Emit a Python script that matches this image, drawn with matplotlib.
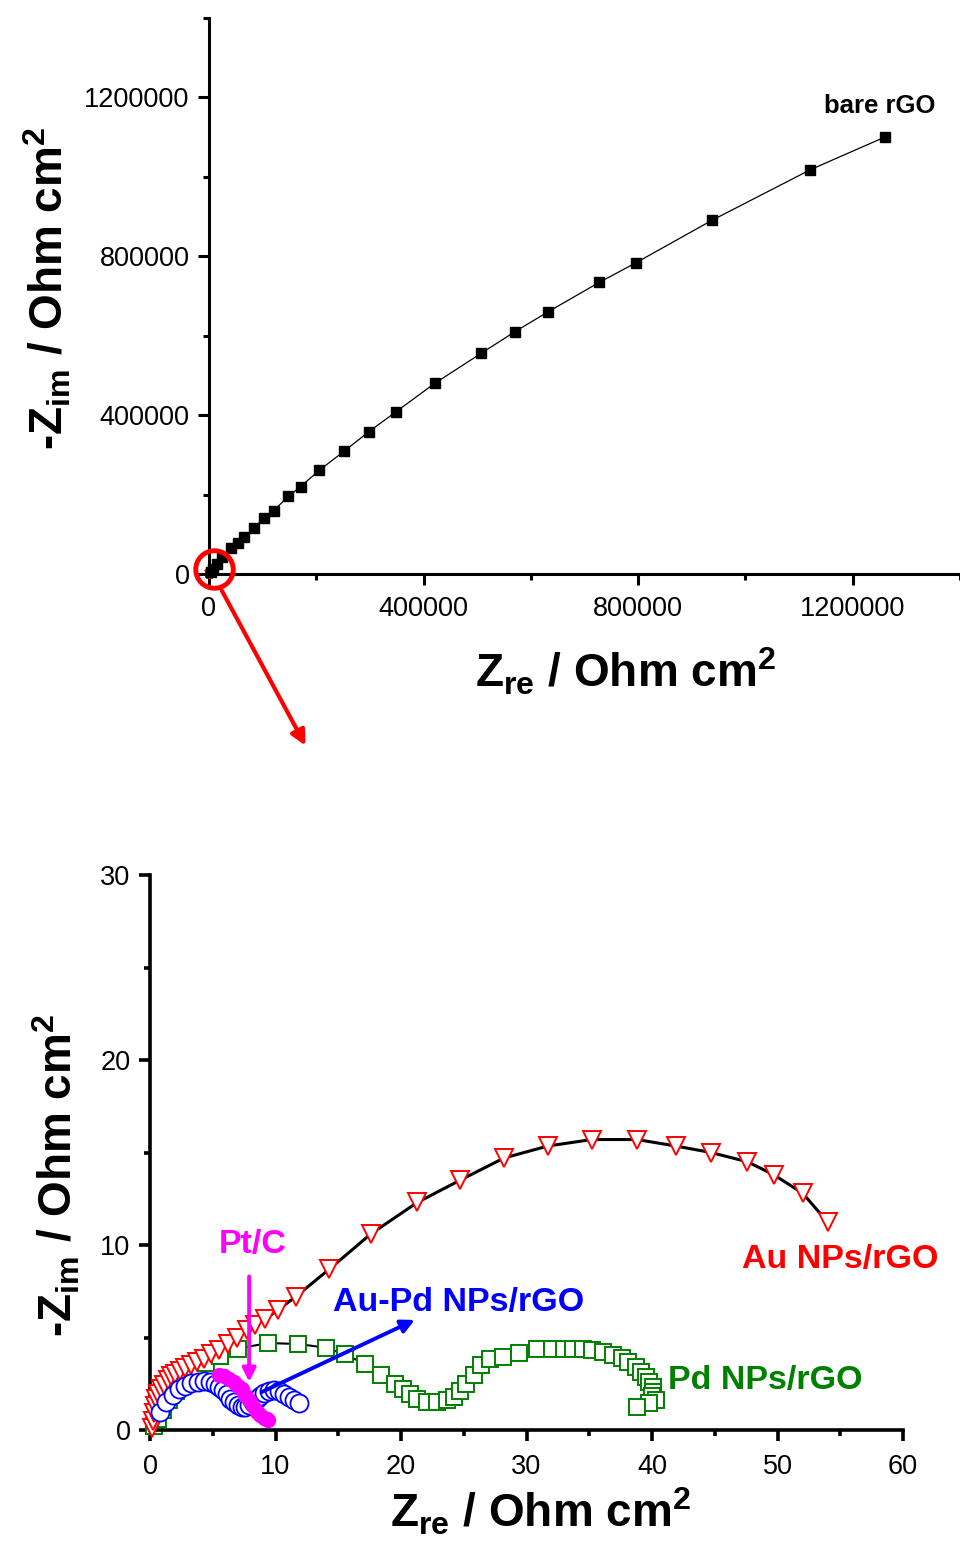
import matplotlib
matplotlib.use("Agg")
import matplotlib.pyplot as plt
from matplotlib.ticker import MultipleLocator, FormatStrFormatter

plt.rcParams['font.family'] = ['Liberation Sans', 'DejaVu Sans']
plt.rcParams['mathtext.fontset'] = 'custom'
plt.rcParams['mathtext.rm'] = 'Liberation Sans'
plt.rcParams['mathtext.bf'] = 'Liberation Sans:bold'
plt.rcParams['mathtext.it'] = 'Liberation Sans:italic'

# ---------------- data ----------------
# bare rGO (top panel)
rgo_x = [3000, 8000, 15000, 25000, 40100, 53900, 65300, 83700, 102000, 120300,
         147900, 170800, 205200, 252100, 298000, 348400, 420600, 507700, 569600,
         632700, 727800, 795400, 937500, 1120900, 1259600]
rgo_y = [5000, 13000, 25000, 42000, 65500, 77400, 92900, 115500, 140500, 159500,
         195200, 220200, 260700, 309500, 358300, 408300, 479800, 556000, 609500,
         660700, 734500, 783300, 890500, 1017900, 1100000]

# Au NPs/rGO
au_x = [0.15, 0.2, 0.28, 0.38, 0.5, 0.65, 0.85, 1.1, 1.4, 1.7, 2.0, 2.4, 2.8, 3.25,
        3.75, 4.3, 4.9, 5.5, 6.2, 6.9, 7.7, 8.4, 9.2, 10.2, 11.6, 14.3, 17.6, 21.3,
        24.7, 28.2, 31.7, 35.2, 38.8, 41.9, 44.7, 47.6, 49.7, 52.0, 54.0]
au_y = [0.1, 0.5, 0.9, 1.3, 1.65, 1.95, 2.2, 2.45, 2.7, 2.9, 3.05, 3.2, 3.35, 3.5,
        3.65, 3.85, 4.1, 4.35, 4.65, 5.0, 5.4, 5.7, 6.0, 6.5, 7.2, 8.7, 10.6, 12.3,
        13.5, 14.7, 15.35, 15.7, 15.7, 15.35, 15.0, 14.5, 13.8, 12.8, 11.24]

# Pd NPs/rGO
pd_x = [0.3, 0.6, 1.0, 1.5, 2.1, 2.8, 3.6, 4.5, 5.6, 7.0, 9.4, 11.8, 14.0, 15.55,
        17.1, 18.4, 19.5, 20.15, 20.7, 21.3, 22.1, 22.9, 23.7, 24.2, 24.7, 25.2,
        25.8, 26.4, 27.1, 28.1, 29.4, 30.8, 32.0, 32.96, 33.7, 34.5, 35.2, 36.1,
        36.9, 37.6, 38.1, 38.7, 39.1, 39.5, 39.8, 40.1, 40.1, 40.0, 40.3, 39.8, 38.8]
pd_y = [0.2, 0.6, 1.1, 1.6, 2.1, 2.6, 3.1, 3.6, 4.0, 4.4, 4.7, 4.65, 4.45, 4.09,
        3.57, 3.0, 2.5, 2.2, 1.95, 1.7, 1.53, 1.53, 1.6, 1.77, 2.1, 2.5,
        2.97, 3.5, 3.84, 3.93, 4.15, 4.36, 4.4, 4.4, 4.4, 4.4, 4.3, 4.2,
        4.05, 3.87, 3.66, 3.42, 3.15, 2.88, 2.6, 2.34, 2.07, 1.84, 1.6, 1.45, 1.26]

# Au-Pd NPs/rGO
aupd_x = [0.8, 1.3, 1.8, 2.3, 2.8, 3.3, 3.8, 4.3, 4.8, 5.2, 5.5, 5.8, 6.1, 6.4,
          6.7, 7.0, 7.3, 7.6, 7.9, 8.2, 8.5, 8.8, 9.1, 9.5, 9.9, 10.3, 10.7, 11.1,
          11.5, 11.9]
aupd_y = [1.0, 1.5, 1.9, 2.2, 2.4, 2.55, 2.62, 2.65, 2.6, 2.5, 2.35, 2.15, 1.95,
          1.7, 1.5, 1.35, 1.25, 1.25, 1.35, 1.5, 1.7, 1.85, 2.0, 2.1, 2.15, 2.1,
          1.95, 1.8, 1.6, 1.45]

# Pt/C
pt_x = [5.5, 5.9, 6.3, 6.7, 7.0, 7.3, 7.6, 7.9, 8.2, 8.5, 8.8, 9.1, 9.3, 9.4]
pt_y = [3.0, 2.9, 2.75, 2.6, 2.4, 2.2, 1.9, 1.6, 1.3, 1.0, 0.8, 0.65, 0.6, 0.55]

top_xticks = [0, 400000, 800000, 1200000]
top_yticks = [0, 400000, 800000, 1200000]
bot_xticks = [0, 10, 20, 30, 40, 50, 60]
bot_yticks = [0, 10, 20, 30]

RED = '#ff0000'
GREEN = '#008000'
BLUE = '#0000ff'
MAG = '#ff00ff'

W, H = 960, 1542
fig = plt.figure(figsize=(W / 100, H / 100), dpi=100)


def style_axes(ax, lw):
    for s in ['top', 'right']:
        ax.spines[s].set_visible(False)
    for s in ['left', 'bottom']:
        ax.spines[s].set_linewidth(lw)
    ax.tick_params(which='major', direction='out', length=8, width=lw,
                   labelsize=19.5, pad=6)
    ax.tick_params(which='minor', direction='out', length=4.5, width=lw)


XLAB = r'$\mathbf{Z}_{\mathbf{re}}$ / Ohm cm$^{\mathbf{2}}$'
YLAB = r'-$\mathbf{Z}_{\mathbf{im}}$ / Ohm cm$^{\mathbf{2}}$'

# ---------------- top panel ----------------
ax1 = fig.add_axes([209 / W, 1 - 574 / H, (960 - 209) / W, (574 - 18) / H])
ax1.set_xlim(0, 1400000)
ax1.set_ylim(0, 1400000)
ax1.set_xticks(top_xticks)
ax1.set_yticks(top_yticks)
ax1.xaxis.set_major_formatter(FormatStrFormatter('%d'))
ax1.yaxis.set_major_formatter(FormatStrFormatter('%d'))
ax1.xaxis.set_minor_locator(MultipleLocator(200000))
ax1.yaxis.set_minor_locator(MultipleLocator(200000))
style_axes(ax1, 2.2)
ax1.tick_params(axis='x', which='major', pad=8)
ax1.plot(rgo_x, rgo_y, '-', color='black', lw=0.9, marker='s', ms=7.5,
         mfc='black', mec='black', clip_on=False, zorder=3)
ax1.plot(au_x, au_y, 'v', ms=6, mfc='white', mec=RED, mew=1, clip_on=False, zorder=2)
ax1.plot(pd_x, pd_y, 's', ms=5, mfc='white', mec=GREEN, mew=1, clip_on=False, zorder=1)
ax1.text(1250000, 1160000, 'bare rGO', fontsize=18.5, fontweight='bold',
         ha='center', va='baseline')
# red circle and arrow
ax1.plot([9300], [12600], 'o', ms=27, mfc='none', mec=RED, mew=3.5,
         clip_on=False, zorder=6)
ax1.annotate('', xy=(180000, -432000), xytext=(24000, -42000),
             xycoords='data', textcoords='data', annotation_clip=False,
             arrowprops=dict(arrowstyle='-|>', color=RED, lw=3,
                             mutation_scale=22, shrinkA=0, shrinkB=0))
ax1.text(0.554, -0.205, XLAB, transform=ax1.transAxes, fontsize=33,
         fontweight='bold', ha='center', va='baseline')
ax1.text(-0.2144, 0.514, YLAB, transform=ax1.transAxes, fontsize=33,
         fontweight='bold', ha='center', va='center', rotation=90)

# ---------------- bottom panel ----------------
ax2 = fig.add_axes([150 / W, 1 - 1430 / H, (903 - 150) / W, (1430 - 875) / H])
ax2.set_xlim(0, 60)
ax2.set_ylim(0, 30)
ax2.set_xticks(bot_xticks)
ax2.set_yticks(bot_yticks)
ax2.xaxis.set_minor_locator(MultipleLocator(5))
ax2.yaxis.set_minor_locator(MultipleLocator(5))
style_axes(ax2, 2.6)
ax2.tick_params(axis='x', which='major', pad=9)

ax2.plot(pd_x, pd_y, '-', color='black', lw=1.5, marker='s', ms=11.5,
         mfc='white', mec=GREEN, mew=1.4, zorder=2, clip_on=False)
ax2.plot(au_x, au_y, '-', color='black', lw=2.2, marker='v', ms=13,
         mfc='white', mec=RED, mew=1.4, zorder=3, clip_on=False)
ax2.plot(aupd_x, aupd_y, 'o', ms=13, mfc='white', mec=BLUE, mew=1.3,
         zorder=4, clip_on=False)
ax2.plot(pt_x, pt_y, 'o', ms=10, mfc=MAG, mec=MAG, mew=1, zorder=5,
         clip_on=False)

ax2.text(8.2, 10.05, 'Pt/C', color=MAG, fontsize=24.5, fontweight='bold',
         ha='center', va='center')
ax2.text(24.6, 6.9, 'Au-Pd NPs/rGO', color=BLUE, fontsize=24.5, fontweight='bold',
         ha='center', va='center')
ax2.text(55.0, 9.24, 'Au NPs/rGO', color=RED, fontsize=24.5, fontweight='bold',
         ha='center', va='center')
ax2.text(49.0, 2.65, 'Pd NPs/rGO', color=GREEN, fontsize=24.5, fontweight='bold',
         ha='center', va='center')

ax2.annotate('', xy=(7.9, 2.6), xytext=(7.9, 8.3),
             arrowprops=dict(arrowstyle='-|>', color=MAG, lw=2.8,
                             mutation_scale=20, shrinkA=0, shrinkB=0), zorder=7)
ax2.annotate('', xy=(21.1, 5.95), xytext=(8.9, 2.05),
             arrowprops=dict(arrowstyle='-|>', color=BLUE, lw=2.8,
                             mutation_scale=20, shrinkA=0, shrinkB=0), zorder=7)

ax2.text(0.519, -0.175, XLAB, transform=ax2.transAxes, fontsize=33,
         fontweight='bold', ha='center', va='baseline')
ax2.text(-0.124, 0.459, YLAB, transform=ax2.transAxes, fontsize=33,
         fontweight='bold', ha='center', va='center', rotation=90)

fig.savefig('out.png', dpi=100)
